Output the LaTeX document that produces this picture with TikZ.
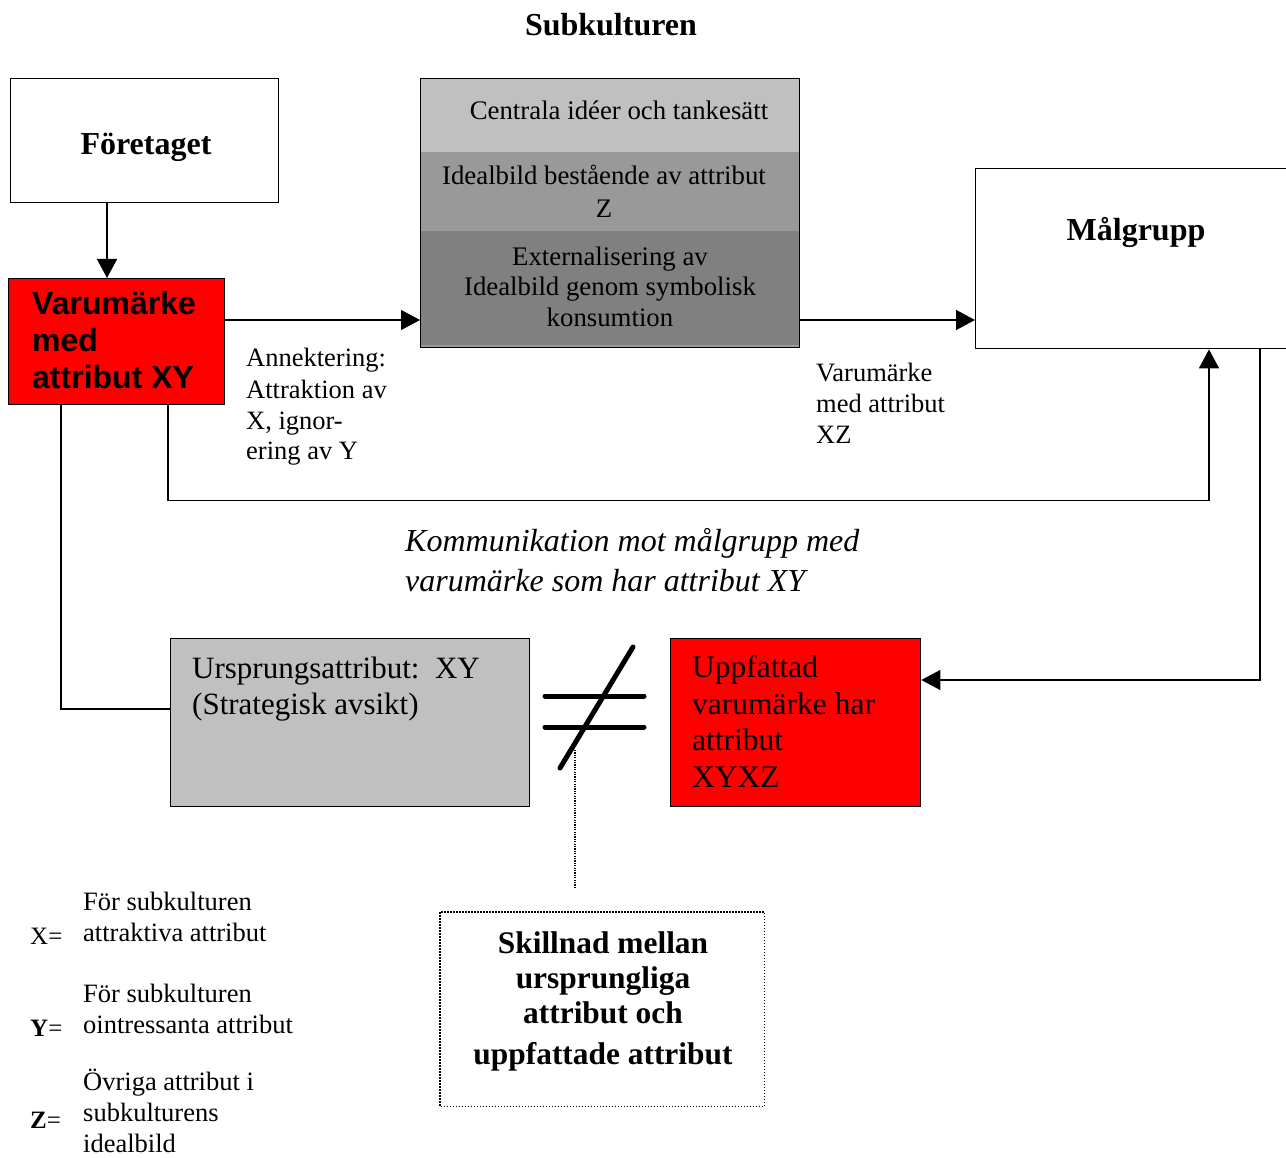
\documentclass[tikz,border=0pt]{standalone}
\usepackage{fontspec}
\setmainfont{Liberation Serif}
\newfontfamily\arialf{Liberation Sans}
\usetikzlibrary{arrows.meta,calc}
\definecolor{vred}{RGB}{255,0,0}
\definecolor{gA}{RGB}{192,192,192}
\definecolor{gB}{RGB}{153,153,153}
\definecolor{gC}{RGB}{128,128,128}
\begin{document}
\begin{tikzpicture}[x=1pt,y=-1pt,
  box/.style={draw, line width=1.4pt, inner sep=0pt, anchor=north west},
  conn/.style={line width=1.4pt},
  arr/.style={conn,-{Triangle[length=19pt,width=20pt]}},
  txt/.style={inner sep=0pt, align=left, anchor=base west, font=\fontsize{26.5}{31}\selectfont},
  ctr/.style={inner sep=0pt, align=center, anchor=base, font=\fontsize{26.8}{31}\selectfont},
  ttl/.style={inner sep=0pt, anchor=base, font=\bfseries\fontsize{32}{37}\selectfont},
  big/.style={inner sep=0pt, align=left, anchor=base west, font=\fontsize{31.5}{36.5}\selectfont},
  neq/.style={line width=5pt, line cap=round},
  dots/.style={line width=1.4pt, dash pattern=on 1.5pt off 1.5pt}
]
\useasboundingbox (0,0) rectangle (1286,1158);

% title
\node[ttl] (title) at (611,36) {Subkulturen};

% boxes
\node[box, minimum width=268pt, minimum height=124pt] (foret) at (10,78) {};
\node[ttl] (foretT) at (146,155) {Företaget};

\node[box, fill=vred, minimum width=216pt, minimum height=126pt] (varu) at (8,278) {};
\node[inner sep=0pt, align=left, anchor=base west, font=\arialf\bfseries\fontsize{32}{37.5}\selectfont] (varuT) at (32,389) {Varumärke\\med\\attribut XY};

\fill[gA] (420,78) rectangle (799,152);
\fill[gB] (420,152) rectangle (799,231);
\fill[gC] (420,231) rectangle (799,345);
\fill[gB] (420,345) rectangle (799,347);
\node[box, minimum width=379pt, minimum height=269pt] (subk) at (420,78) {};
\node[ctr] (c1) at (619,120) {Centrala idéer och tankesätt};
\node[ctr] (c2) at (604,218) {Idealbild bestående av attribut\\[2pt]Z};
\node[ctr] (c3) at (610,327) {Externalisering av\\Idealbild genom symbolisk\\konsumtion};

\node[box, minimum width=330pt, minimum height=180pt] (malg) at (975,168) {};
\node[ttl] (malgT) at (1136,241) {Målgrupp};

\node[box, fill=gA, minimum width=359pt, minimum height=168pt] (ursp) at (170,638) {};
\node[big, font=\fontsize{31}{36}\selectfont] (urspT) at (192,714) {Ursprungsattribut:\ \ XY\\(Strategisk avsikt)};

\node[box, fill=vred, minimum width=250pt, minimum height=168pt] (uppf) at (670,638) {};
\node[big] (uppfT) at (692,787) {Uppfattad\\varumärke har\\attribut\\XYXZ};

\node[box, draw=none, minimum width=323pt, minimum height=193pt] (skill) at (440,912) {};
\draw[dots] (skill.north west) rectangle (skill.south east);
\node[inner sep=0pt, align=center, anchor=base, font=\bfseries\fontsize{31.4}{35}\selectfont] (skillT) at (603,1064) {Skillnad mellan\\ursprungliga\\attribut och\\[6pt]uppfattade attribut};

% labels
\node[txt] (ann) at (246,460) {Annektering:\\Attraktion av\\X, ignor-\\ering av Y};
\node[txt] (xz) at (816,443) {Varumärke\\med attribut\\XZ};
\node[inner sep=0pt, align=left, anchor=base west, font=\itshape\fontsize{32}{40}\selectfont] (komm) at (405,591) {Kommunikation mot målgrupp med\\varumärke som har attribut XY};

% legend
\node[inner sep=0pt, anchor=base west, font=\fontsize{25}{30}\selectfont] (xeq) at (30,944) {X=};
\node[inner sep=0pt, anchor=base west, font=\fontsize{25}{30}\selectfont] (yeq) at (30,1036) {\textbf{Y}=};
\node[inner sep=0pt, anchor=base west, font=\fontsize{25}{30}\selectfont] (zeq) at (30,1128) {\textbf{Z}=};
\node[txt] (l1) at (83,941) {För subkulturen\\attraktiva attribut};
\node[txt] (l2) at (83,1033) {För subkulturen\\ointressanta attribut};
\node[txt] (l3) at (83,1152) {Övriga attribut i\\subkulturens\\idealbild};

% connectors
\coordinate (a1) at ([xshift=97pt]foret.south west);
\draw[arr] (a1) -- (a1 |- varu.north);
\coordinate (a2) at ([yshift=-42pt]varu.north east);
\draw[arr] (a2) -- (a2 -| subk.west);
\coordinate (a3) at (subk.east |- a2);
\draw[arr] (a3) -- (a3 -| malg.west);
\coordinate (a4) at ([xshift=160pt]varu.south west);
\coordinate (a5) at ([xshift=234pt]malg.south west);
\draw[arr] (a4) -- ++(0,95) -| (a5);
\coordinate (a6) at ([xshift=53pt]varu.south west);
\coordinate (a7) at ([yshift=-71pt]ursp.north west);
\draw[conn] (a6) |- (a7);
\coordinate (a8) at ([xshift=285pt]malg.south west);
\coordinate (a9) at ([yshift=-42pt]uppf.north east);
\draw[arr] (a8) |- (a9);

% not equal sign
\draw[neq] (545,696) -- (644,696);
\draw[neq] (545,727) -- (644,727);
\draw[neq] (560,768) -- (633,647);
\coordinate (d1) at (575,750);
\coordinate (d2) at (575,887);
\draw[line width=1.2pt, dash pattern=on 1.2pt off 1.2pt] (d1) -- (d2);
\end{tikzpicture}
\end{document}
